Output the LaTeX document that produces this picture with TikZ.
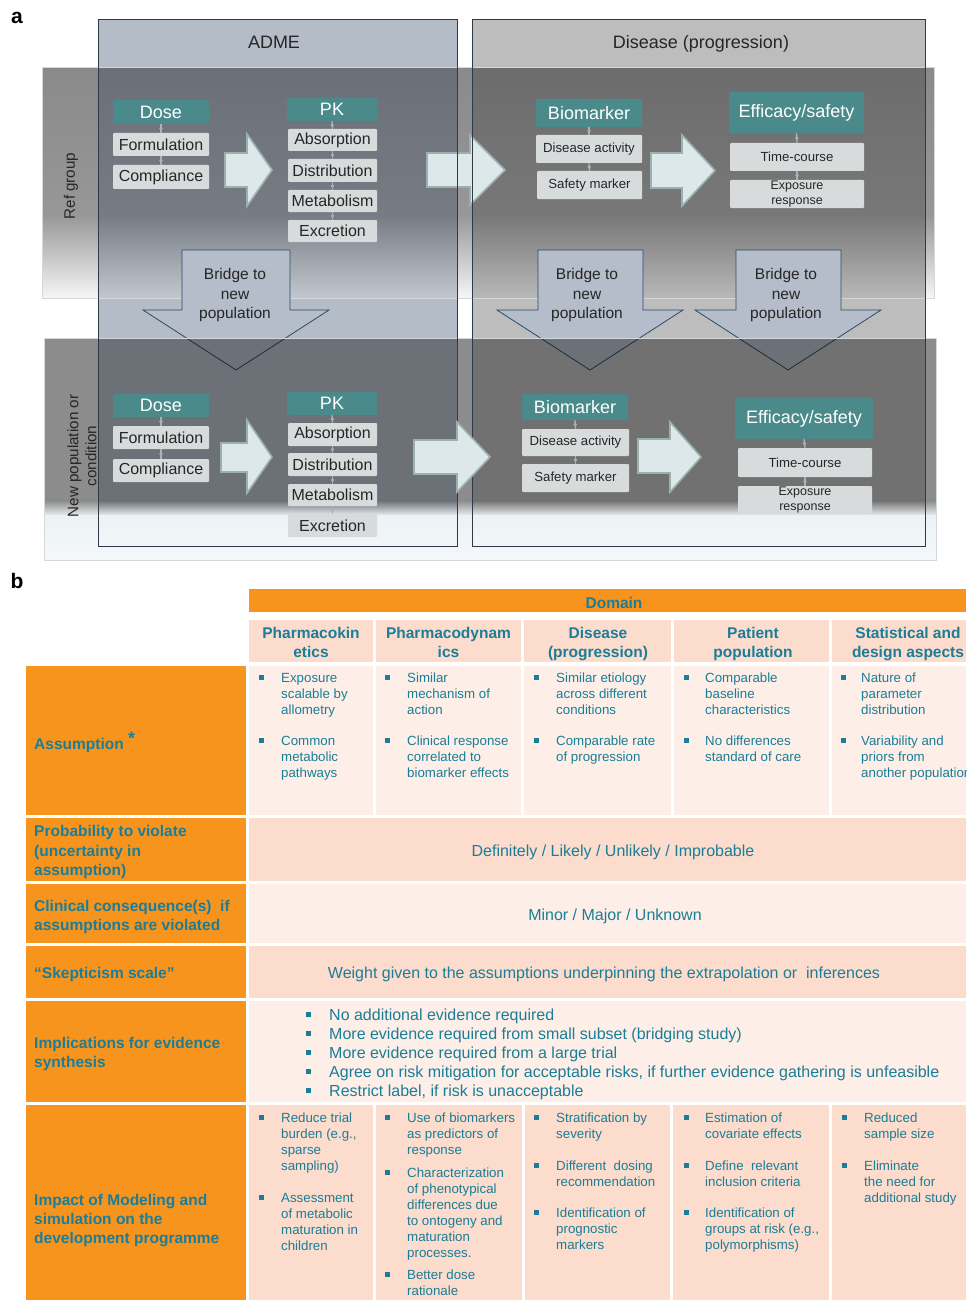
\documentclass[tikz,border=0pt]{standalone}
\usepackage{fontspec}
\setmainfont{Liberation Sans}
\definecolor{admeF}{HTML}{B4BCC7}
\definecolor{disF}{HTML}{BDBDBD}
\definecolor{colLine}{HTML}{2E3A46}
\definecolor{tealH}{HTML}{4A8A8B}
\definecolor{subG}{HTML}{D8DBDC}
\definecolor{subT}{HTML}{262626}
\definecolor{conC}{HTML}{A9B3B7}
\definecolor{arF}{HTML}{DCE8EA}
\definecolor{arD}{HTML}{9DB0B0}
\definecolor{brF}{HTML}{B4BDC9}
\definecolor{brD}{HTML}{2D4A66}
\definecolor{orng}{HTML}{F7941E}
\definecolor{salm}{HTML}{FBDCCD}
\definecolor{lite}{HTML}{FDEFE7}
\definecolor{tealT}{HTML}{1B7D97}
\definecolor{mTop}{HTML}{8A8A8A}
\definecolor{mMid}{HTML}{979797}
\definecolor{mBot}{HTML}{F6F6F6}
\definecolor{aTop}{HTML}{6B7078}
\definecolor{aMid}{HTML}{777C84}
\definecolor{aBot}{HTML}{C2C8CE}
\definecolor{dTop}{HTML}{6C6C6C}
\definecolor{dMid}{HTML}{787878}
\definecolor{dBot}{HTML}{B8B8B8}
\definecolor{mTwo}{HTML}{8C8C8C}
\definecolor{aTwo}{HTML}{6C7177}
\definecolor{dTwo}{HTML}{717171}
\definecolor{lowL}{HTML}{ECF2F5}
\definecolor{lowB}{HTML}{F5F8FA}
\definecolor{bandEdge}{HTML}{D3D8DC}
\newcommand\segA[5]{\shade[top color=#3,bottom color=#4] (#1,68) rectangle (#2,215.5);
  \shade[top color=#4,bottom color=#5] (#1,215) rectangle (#2,298);}
\newcommand\segB[3]{\shade[top color=#3,bottom color=lowL] (#1,500.5) rectangle (#2,516);
  \shade[top color=lowL,bottom color=lowB] (#1,515.5) rectangle (#2,560);}
\newcommand\rarr[8]{\draw[rarrow] (#1,#4) -- (#2,#4) -- (#2,#6) -- (#3,#8) -- (#2,#7) -- (#2,#5) -- (#1,#5) -- cycle;}
\newcommand\barr[5]{\draw[barrow] (#1,250) -- (#2,250) -- (#2,310) -- (#4,310) -- (#5,370) -- (#3,310) -- (#1,310) -- cycle;}
\newcommand\bitem[5]{\fill[tealT] ({#2-2.5},{#4-2.5}) rectangle ({#2+2.5},{#4+2.5});
  \node[cell] (#1) at (#3,{#4-4}) {#5};}
\begin{document}
\begin{tikzpicture}[x=1pt,y=-1pt,
  hdr/.style={fill=tealH,text=white,font=\fontsize{18}{20}\selectfont,rounded corners=1.5pt,inner sep=0pt},
  sub/.style={fill=subG,text=subT,font=\fontsize{16}{18}\selectfont,rounded corners=1pt,inner sep=0pt},
  subs/.style={sub,font=\fontsize{13.2}{15}\selectfont},
  subx/.style={sub,font=\fontsize{12.5}{15.5}\selectfont,align=center},
  conn/.style={draw=conC,line width=1.3pt},
  cdot/.style={circle,fill=conC,inner sep=0pt,minimum size=3.6pt},
  rarrow/.style={fill=arF,draw=arD,line width=1.6pt,line join=miter},
  barrow/.style={fill=brF,draw=brD,line width=0.8pt},
  btxt/.style={font=\fontsize{15.5}{19.5}\selectfont,align=center,text=subT,inner sep=0pt},
  coltitle/.style={font=\fontsize{18}{20}\selectfont,text=subT,inner sep=0pt,anchor=base},
  rowlab/.style={font=\fontsize{15.2}{18}\selectfont,text=subT,align=center,rotate=90,inner sep=0pt},
  panel/.style={font=\bfseries\fontsize{21}{22}\selectfont,inner sep=0pt},
  lbl/.style={font=\bfseries\fontsize{15.5}{19.3}\selectfont,text=tealT,align=left,inner sep=0pt,anchor=west},
  colh/.style={font=\bfseries\fontsize{15.5}{19}\selectfont,text=tealT,align=center,inner sep=0pt},
  mid/.style={font=\fontsize{16}{19}\selectfont,text=tealT,inner sep=0pt},
  cell/.style={font=\fontsize{13.3}{16}\selectfont,text=tealT,align=left,inner sep=0pt,anchor=north west},
]
\useasboundingbox (0,0) rectangle (966,1300);
\clip (0,0) rectangle (966,1300);

% ================= part a =================
\node[panel] (pa) at (17,18) {a};
\fill[admeF] (98,19) rectangle (457,546);
\fill[disF] (472,19) rectangle (925,546);
\node[coltitle] (tadme) at (274,48.5) {ADME};
\node[coltitle] (tdis) at (701,48.5) {Disease (progression)};

% band 1
\segA{42}{98.5}{mTop}{mMid}{mBot}
\segA{98}{457.5}{aTop}{aMid}{aBot}
\segA{457}{472.5}{mTop}{mMid}{mBot}
\segA{472}{925.5}{dTop}{dMid}{dBot}
\segA{925}{934}{mTop}{mMid}{mBot}
\draw[bandEdge,line width=1pt] (42,68) rectangle (934,298);
\node[rowlab] (refg) at (71,186) {Ref group};

% row 1 nodes
\node[hdr,minimum width=96pt,minimum height=24pt] (dose1) at (161,112) {Dose};
\node[sub,minimum width=96pt,minimum height=23pt] (form1) at (161,144.5) {Formulation};
\node[sub,minimum width=96pt,minimum height=24pt] (comp1) at (161,177) {Compliance};
\node[hdr,minimum width=90pt,minimum height=23pt] (pk1) at (332,109.5) {PK};
\node[sub,minimum width=89pt,minimum height=22pt] (abs1) at (332.5,140) {Absorption};
\node[sub,minimum width=89pt,minimum height=23pt] (dist1) at (332.5,170.5) {Distribution};
\node[sub,minimum width=89pt,minimum height=22pt] (met1) at (332.5,201) {Metabolism};
\node[sub,minimum width=89pt,minimum height=22pt] (exc1) at (332.5,231) {Excretion};
\node[hdr,minimum width=106pt,minimum height=28pt] (bio1) at (589,113) {Biomarker};
\node[subs,minimum width=106pt,minimum height=28pt] (dact1) at (589,149) {Disease activity};
\node[subs,minimum width=105pt,minimum height=28pt] (saf1) at (589.5,185) {Safety marker};
\node[hdr,minimum width=135pt,minimum height=41pt] (eff1) at (796.5,112.5) {Efficacy/safety};
\node[subs,minimum width=134pt,minimum height=28pt] (tc1) at (797,157) {Time-course};
\node[subx,minimum width=134pt,minimum height=28pt] (er1) at (797,194) {Exposure\\response};
\draw[conn] (dose1.south) -- node[cdot]{} (form1.north);
\draw[conn] (form1.south) -- node[cdot]{} (comp1.north);
\draw[conn] (pk1.south) -- node[cdot]{} (abs1.north);
\draw[conn] (abs1.south) -- node[cdot]{} (dist1.north);
\draw[conn] (dist1.south) -- node[cdot]{} (met1.north);
\draw[conn] (met1.south) -- node[cdot]{} (exc1.north);
\draw[conn] (bio1.south) -- node[cdot]{} (dact1.north);
\draw[conn] (dact1.south) -- node[cdot]{} (saf1.north);
\draw[conn] (eff1.south) -- node[cdot]{} (tc1.north);
\draw[conn] (tc1.south) -- node[cdot]{} (er1.north);

% right block arrows, row 1
\rarr{225}{247}{272}{153}{187}{134}{206}{170}
\rarr{427}{470}{505}{153}{187}{135}{205}{170}
\rarr{651}{682}{715}{153}{188}{135}{206}{170.5}

% bridge arrows
\barr{182}{290}{143}{329}{236}
\barr{538}{643}{497}{683}{590}
\barr{736}{841}{695}{881}{788}
\node[btxt] (br1) at (235,295) {Bridge to\\new\\population};
\node[btxt] (br2) at (587,295) {Bridge to\\new\\population};
\node[btxt] (br3) at (786,295) {Bridge to\\new\\population};

% band 2
\fill[black,opacity=0.4] (98,338) rectangle (457,501);
\fill[black,opacity=0.4] (472,338) rectangle (925,501);
\fill[mTwo] (44,338) rectangle (98,501);
\fill[mTwo] (457,338) rectangle (472,501);
\fill[mTwo] (925,338) rectangle (936,501);
\segB{44}{98.5}{mTwo}
\segB{98}{457.5}{aTwo}
\segB{457}{472.5}{mTwo}
\segB{472}{925.5}{dTwo}
\segB{925}{936}{mTwo}
\draw[bandEdge,line width=1pt] (44,338) rectangle (936,560);
\node[rowlab] (newp) at (82,456) {New population or\\condition};

% column borders
\draw[colLine,line width=0.9pt] (98,19) rectangle (457,546);
\draw[colLine,line width=0.9pt] (472,19) rectangle (925,546);

% row 2 nodes
\node[hdr,minimum width=96pt,minimum height=23pt] (dose2) at (161,405.5) {Dose};
\node[sub,minimum width=96pt,minimum height=23pt] (form2) at (161,437.5) {Formulation};
\node[sub,minimum width=96pt,minimum height=23pt] (comp2) at (161,470.5) {Compliance};
\node[hdr,minimum width=90pt,minimum height=23pt] (pk2) at (332,403.5) {PK};
\node[sub,minimum width=89pt,minimum height=23pt] (abs2) at (332.5,434.5) {Absorption};
\node[sub,minimum width=89pt,minimum height=23pt] (dist2) at (332.5,464.5) {Distribution};
\node[sub,minimum width=89pt,minimum height=22pt] (met2) at (332.5,495) {Metabolism};
\node[sub,minimum width=89pt,minimum height=23pt] (exc2) at (332.5,525.5) {Excretion};
\node[hdr,minimum width=106pt,minimum height=26pt] (bio2) at (575,407) {Biomarker};
\node[subs,minimum width=107pt,minimum height=27pt] (dact2) at (575.5,442.5) {Disease activity};
\node[subs,minimum width=107pt,minimum height=28pt] (saf2) at (575.5,478) {Safety marker};
\node[hdr,minimum width=138pt,minimum height=41pt] (eff2) at (804,418.5) {Efficacy/safety};
\node[subs,minimum width=134pt,minimum height=29pt] (tc2) at (805,462.5) {Time-course};
\node[subx,minimum width=134pt,minimum height=28pt] (er2) at (805,500) {Exposure\\response};
\draw[conn] (dose2.south) -- node[cdot]{} (form2.north);
\draw[conn] (form2.south) -- node[cdot]{} (comp2.north);
\draw[conn] (pk2.south) -- node[cdot]{} (abs2.north);
\draw[conn] (abs2.south) -- node[cdot]{} (dist2.north);
\draw[conn] (dist2.south) -- node[cdot]{} (met2.north);
\draw[conn] (met2.south) -- node[cdot]{} (exc2.north);
\draw[conn] (bio2.south) -- node[cdot]{} (dact2.north);
\draw[conn] (dact2.south) -- node[cdot]{} (saf2.north);
\draw[conn] (eff2.south) -- node[cdot]{} (tc2.north);
\draw[conn] (tc2.south) -- node[cdot]{} (er2.north);

\rarr{221}{247}{272}{443}{472}{420}{493}{457}
\rarr{414}{457}{490}{440}{474}{422}{492}{457}
\rarr{638}{670}{701}{439}{473}{422}{492}{457}

% ================= part b =================
\node[panel] (pb) at (17,581) {b};
\fill[orng] (249,589) rectangle (966,612);
\node[colh] (dom) at (614,602.5) {Domain};
\fill[salm] (249,620) rectangle (373,662);
\fill[salm] (376,620) rectangle (521,662);
\fill[salm] (524,620) rectangle (671,662);
\fill[salm] (674,620) rectangle (829,662);
\fill[salm] (832,620) rectangle (966,662);
\node[colh] (h1) at (311,642) {Pharmacokin\\etics};
\node[colh] (h2) at (448.5,642) {Pharmacodynam\\ics};
\node[colh] (h3) at (598,644) {Disease\\(progression)};
\node[colh] (h4) at (753,644) {Patient\\population};
\node[colh] (h5) at (908,644) {Statistical and\\design aspects};

% left column
\fill[orng] (26,666) rectangle (246,815);
\fill[orng] (26,818) rectangle (246,881);
\fill[orng] (26,884) rectangle (246,943);
\fill[orng] (26,946) rectangle (246,998);
\fill[orng] (26,1001) rectangle (246,1102);
\fill[orng] (26,1105) rectangle (246,1300);
\node[lbl] (l1) at (34,742) {Assumption \raisebox{5pt}{\fontsize{18}{18}\selectfont*}};
\node[lbl] (l2) at (34,852) {Probability to violate\\(uncertainty in\\assumption)};
\node[lbl] (l3) at (34,917) {Clinical consequence(s)~ if\\assumptions are violated};
\node[lbl] (l4) at (34,974) {“Skepticism scale”};
\node[lbl] (l5) at (34,1054) {Implications for evidence\\synthesis};
\node[lbl] (l6) at (34,1220.5) {Impact of Modeling and\\simulation on the\\development programme};

% assumption row
\fill[lite] (249,666) rectangle (373,815);
\fill[lite] (376,666) rectangle (521,815);
\fill[lite] (524,666) rectangle (671,815);
\fill[lite] (674,666) rectangle (829,815);
\fill[lite] (832,666) rectangle (966,815);
\bitem{a11}{261}{281}{677}{Exposure\\scalable by\\allometry}
\bitem{a12}{261}{281}{740}{Common\\metabolic\\pathways}
\bitem{a21}{387}{407}{677}{Similar\\mechanism of\\action}
\bitem{a22}{387}{407}{740}{Clinical response\\correlated to\\biomarker effects}
\bitem{a31}{536}{556}{677}{Similar etiology\\across different\\conditions}
\bitem{a32}{536}{556}{740}{Comparable rate\\of progression}
\bitem{a41}{686}{705}{677}{Comparable\\baseline\\characteristics}
\bitem{a42}{686}{705}{740}{No differences\\standard of care}
\bitem{a51}{843}{861}{677}{Nature of\\parameter\\distribution}
\bitem{a52}{843}{861}{740}{Variability and\\priors from\\another population}

% spanning rows
\fill[salm] (249,818) rectangle (966,881);
\node[mid] (prob) at (613,852) {Definitely / Likely / Unlikely / Improbable};
\fill[lite] (249,884) rectangle (966,943);
\node[mid] (clin) at (615,916) {Minor / Major / Unknown};
\fill[salm] (249,946) rectangle (966,998);
\node[mid] (skep) at (604,974) {Weight given to the assumptions underpinning the extrapolation or~ inferences};
\fill[lite] (249,1001) rectangle (966,1102);
\foreach \k in {0,...,4} \fill[tealT] (306,{1012+19*\k}) rectangle (310.5,{1017+19*\k});
\node[mid,align=left,anchor=north west] (impl) at (329,1009) {No additional evidence required\\More evidence required from small subset (bridging study)\\More evidence required from a large trial\\Agree on risk mitigation for acceptable risks, if further evidence gathering is unfeasible\\Restrict label, if risk is unacceptable};

% impact row
\fill[salm] (249,1105) rectangle (373,1300);
\fill[salm] (376,1105) rectangle (522,1300);
\fill[salm] (525,1105) rectangle (670,1300);
\fill[salm] (673,1105) rectangle (829,1300);
\fill[salm] (832,1105) rectangle (966,1300);
\bitem{i11}{261}{281}{1117}{Reduce trial\\burden (e.g.,\\sparse\\sampling)}
\bitem{i12}{261}{281}{1197}{Assessment\\of metabolic\\maturation in\\children}
\bitem{i21}{387}{407}{1117}{Use of biomarkers\\as predictors of\\response}
\bitem{i22}{387}{407}{1172}{Characterization\\of phenotypical\\differences due\\to ontogeny and\\maturation\\processes.}
\bitem{i23}{387}{407}{1274}{Better dose\\rationale}
\bitem{i31}{536}{556}{1117}{Stratification by\\severity}
\bitem{i32}{536}{556}{1165}{Different~ dosing\\recommendation}
\bitem{i33}{536}{556}{1212}{Identification of\\prognostic\\markers}
\bitem{i41}{686}{705}{1117}{Estimation of\\covariate effects}
\bitem{i42}{686}{705}{1165}{Define~ relevant\\inclusion criteria}
\bitem{i43}{686}{705}{1212}{Identification of\\groups at risk (e.g.,\\polymorphisms)}
\bitem{i51}{844}{864}{1117}{Reduced\\sample size}
\bitem{i52}{844}{864}{1165}{Eliminate\\the need for\\additional study}
\end{tikzpicture}
\end{document}
